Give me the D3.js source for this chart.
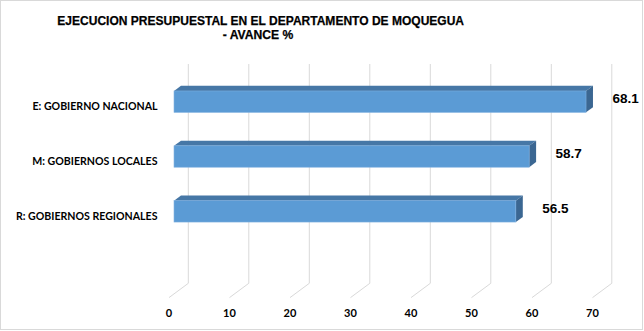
<!DOCTYPE html>
<html>
<head>
<meta charset="utf-8">
<script src="https://cdn.jsdelivr.net/npm/d3@7"></script>
<style>
  html, body { margin: 0; padding: 0; background: #ffffff; }
  svg { display: block; }
</style>
</head>
<body>
<script>
// ---- data ----
const titleLines = ["EJECUCION PRESUPUESTAL EN EL DEPARTAMENTO DE MOQUEGUA", "- AVANCE %"];
const categories = ["E: GOBIERNO NACIONAL", "M: GOBIERNOS LOCALES", "R: GOBIERNOS REGIONALES"];
const values = [68.1, 58.7, 56.5];
const tickValues = [0, 10, 20, 30, 40, 50, 60, 70];

// ---- layout ----
const W = 644, H = 331;
const depthDX = 19.3, depthDY = -14.3;     // full floor depth (front -> back wall)
const barT0 = 0.26, barT1 = 0.62;          // bar depth positions within floor
const wallTop = 64, wallBottom = 283.3;

const svg = d3.select("body").append("svg").attr("width", W).attr("height", H);

svg.append("rect").attr("x", 0.5).attr("y", 0.5).attr("width", W - 2).attr("height", H - 2)
  .attr("fill", "#ffffff").attr("stroke", "#d9d9d9").attr("stroke-width", 1);

// value scale on the front plane (t = 0)
const x = d3.scaleLinear().domain([0, 70]).range([169, 592.5]);
const px = (v, t) => x(v) + depthDX * t;

// category band scale for bar front faces (at depth barT0)
const y = d3.scaleBand().domain(categories).range([74.5, 238.5]).paddingInner(0.61).paddingOuter(0.3);

// ---- back wall gridlines + floor lines ----
const grid = svg.append("g").attr("stroke", "#d9d9d9").attr("stroke-width", 1).attr("fill", "none");
tickValues.forEach(v => {
  const xb = px(v, 1), xf = px(v, 0);
  grid.append("path").attr("d", `M${xb},${wallTop}L${xb},${wallBottom}L${xf},${wallBottom - depthDY}`);
});

// ---- tick labels (front) ----
svg.append("g").selectAll("text").data(tickValues).join("text")
  .attr("x", d => px(d, 0)).attr("y", 316.5)
  .attr("text-anchor", "middle")
  .attr("font-family", "Lato, 'Open Sans', sans-serif").attr("font-weight", "bold")
  .attr("font-size", "11px").attr("fill", "#000")
  .text(d => d);

// ---- bars ----
const bdx = depthDX * (barT1 - barT0), bdy = depthDY * (barT1 - barT0);
const bars = svg.append("g");
categories.forEach((c, i) => {
  const v = values[i];
  const x0 = px(0, barT0), x1 = px(v, barT0);
  const yt = y(c), yb = y(c) + y.bandwidth();
  // top face
  bars.append("path")
    .attr("d", `M${x0},${yt}L${x0 + bdx},${yt + bdy}L${x1 + bdx},${yt + bdy}L${x1},${yt}Z`)
    .attr("fill", "#4677a6");
  // side face
  bars.append("path")
    .attr("d", `M${x1},${yt}L${x1 + bdx},${yt + bdy}L${x1 + bdx},${yb + bdy}L${x1},${yb}Z`)
    .attr("fill", "#3b6792");
  // front face
  bars.append("rect")
    .attr("x", x0).attr("y", yt).attr("width", x1 - x0).attr("height", y.bandwidth())
    .attr("fill", "#5b9bd5").attr("stroke", "#7fb0e0").attr("stroke-width", 0.6);
  // value label
  svg.append("text")
    .attr("x", x1 + 39.5).attr("y", (yt + yb) / 2 + 1.8)
    .attr("text-anchor", "middle")
    .attr("font-family", "'Liberation Sans', Arial, sans-serif").attr("font-weight", "bold")
    .attr("font-size", "13.5px").attr("fill", "#000")
    .text(v.toFixed(1));
  // category label
  svg.append("text")
    .attr("x", 157.5).attr("y", (yt + yb) / 2 + 8.6)
    .attr("text-anchor", "end")
    .attr("font-family", "Lato, 'Open Sans', sans-serif").attr("font-weight", "bold")
    .attr("font-size", "10.6px").attr("fill", "#000")
    .text(c);
});

// ---- title ----
const titleFont = "'Liberation Sans Narrow', 'Arial Narrow', 'Liberation Sans', Arial, sans-serif";
svg.append("text").attr("x", 260.7).attr("y", 24.8).attr("text-anchor", "middle")
  .attr("font-family", titleFont).attr("font-weight", "bold").attr("font-size", "12.6px")
  .attr("textLength", 406.7).attr("lengthAdjust", "spacingAndGlyphs")
  .attr("stroke", "#000").attr("stroke-width", 0.25)
  .text(titleLines[0]);
svg.append("text").attr("x", 258).attr("y", 39.4).attr("text-anchor", "middle")
  .attr("font-family", titleFont).attr("font-weight", "bold").attr("font-size", "12.6px")
  .attr("textLength", 70.6).attr("lengthAdjust", "spacingAndGlyphs")
  .attr("stroke", "#000").attr("stroke-width", 0.25)
  .text(titleLines[1]);
</script>
</body>
</html>
